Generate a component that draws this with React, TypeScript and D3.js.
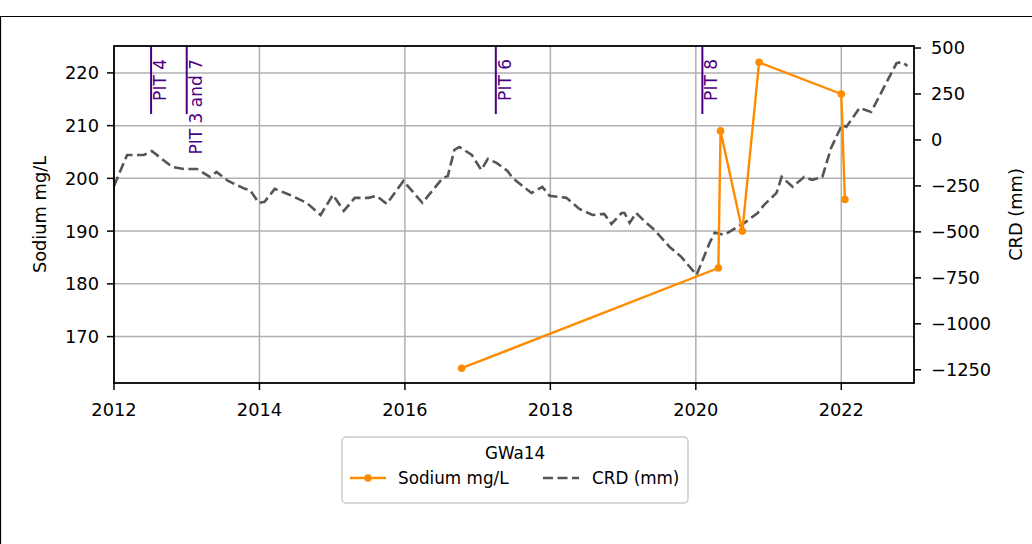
import React from 'react';
import * as d3 from 'd3';

// sodium samples (decimal year, mg/L)
const sodiumDates = [2016.78, 2020.31, 2020.34, 2020.64, 2020.87, 2022.0, 2022.05];
const sodiumValues = [164, 183, 209, 190, 222, 216, 196];

// cumulative rainfall departure (decimal year, mm)
const crdDates = [
    2012.0, 2012.18, 2012.41, 2012.52, 2012.8, 2012.96, 2013.14, 2013.32, 2013.41, 2013.57,
    2013.8, 2013.87, 2013.99, 2014.07, 2014.21, 2014.42, 2014.65, 2014.84, 2015.01, 2015.16,
    2015.31, 2015.5, 2015.61, 2015.75, 2015.98, 2016.24, 2016.52, 2016.59, 2016.68, 2016.75,
    2016.92, 2017.05, 2017.14, 2017.26, 2017.41, 2017.48, 2017.74, 2017.89, 2017.99, 2018.22,
    2018.4, 2018.58, 2018.74, 2018.84, 2018.98, 2019.02, 2019.09, 2019.18, 2019.29, 2019.43,
    2019.64, 2019.8, 2020.01, 2020.19, 2020.26, 2020.39, 2020.67, 2020.85, 2020.94, 2021.11,
    2021.18, 2021.33, 2021.49, 2021.6, 2021.74, 2021.86, 2022.01, 2022.07, 2022.25, 2022.41,
    2022.76, 2022.84, 2022.91
];
const crdValues = [
    -250, -82, -82, -60, -147, -158, -158, -201, -174, -223,
    -266, -272, -342, -337, -266, -299, -342, -408, -299, -386,
    -315, -315, -304, -348, -223, -342, -207, -196, -54, -38,
    -82, -163, -103, -125, -168, -207, -288, -255, -304, -315,
    -375, -408, -402, -457, -397, -397, -451, -397, -440, -489,
    -582, -636, -734, -560, -505, -516, -451, -397, -353, -288,
    -201, -255, -201, -217, -201, -43, 82, 71, 174, 152,
    418, 424, 402
];

const pitDates = [2012.51, 2013.0, 2017.25, 2020.09];
const pitLabels = ['PIT 4', 'PIT 3 and 7', 'PIT 6', 'PIT 8'];

const xTicks = [2012, 2014, 2016, 2018, 2020, 2022];
const leftTicks = [170, 180, 190, 200, 210, 220];
const rightTicks = [-1250, -1000, -750, -500, -250, 0, 250, 500];

const PLOT = { LEFT: 114, RIGHT: 914, TOP: 46, BOTTOM: 383 };
const FONT = 'DejaVu Sans, sans-serif';
const FS = 17.8;
const LEGEND_FS = 16.8;
const ORANGE = '#ff8c00';
const GREY = '#555555';
const PURPLE = '#4b0082';

export default function App() {
    const x = d3.scaleLinear().domain([2012, 2023]).range([PLOT.LEFT, PLOT.RIGHT]);
    const yLeft = d3.scaleLinear().domain([161.2, 225.1]).range([PLOT.BOTTOM, PLOT.TOP]);
    const yRight = d3.scaleLinear().domain([-1322, 511]).range([PLOT.BOTTOM, PLOT.TOP]);
    const fmt = d3.format('d');

    const sodiumLine = d3.line<number>().x((_, i) => x(sodiumDates[i])).y(d => yLeft(d));
    const crdLine = d3.line<number>().x((_, i) => x(crdDates[i])).y(d => yRight(d));

    return (
        <svg width={1032} height={544} style={{ position: 'absolute', left: 0, top: 0, background: '#fff' }}
            fontFamily={FONT} fontSize={FS}>
            {/* figure frame */}
            <path d="M0.5,544V16.5H1032" fill="none" stroke="#000" strokeWidth={1.2} />

            {/* grid */}
            {xTicks.map(t => (
                <line key={`gx-${t}`} x1={x(t)} x2={x(t)} y1={PLOT.TOP} y2={PLOT.BOTTOM} stroke="#b0b0b0" strokeWidth={1.5} />
            ))}
            {leftTicks.map(t => (
                <line key={`gy-${t}`} x1={PLOT.LEFT} x2={PLOT.RIGHT} y1={yLeft(t)} y2={yLeft(t)} stroke="#b0b0b0" strokeWidth={1.5} />
            ))}

            {/* PIT markers */}
            {pitDates.map((d, i) => (
                <g key={`pit-${i}`}>
                    <line x1={x(d)} x2={x(d)} y1={PLOT.TOP} y2={114} stroke={PURPLE} strokeWidth={2} />
                    <text transform={`translate(${x(d) + 15},59) rotate(-90)`} textAnchor="end" fill={PURPLE} fontSize={17}>{pitLabels[i]}</text>
                </g>
            ))}

            {/* CRD */}
            <path d={crdLine(crdValues) || ''} fill="none" stroke={GREY} strokeWidth={2.6} strokeDasharray="10,4.5" />

            {/* sodium */}
            <path d={sodiumLine(sodiumValues) || ''} fill="none" stroke={ORANGE} strokeWidth={2.4} />
            {sodiumValues.map((v, i) => (
                <circle key={`na-${i}`} cx={x(sodiumDates[i])} cy={yLeft(v)} r={3.8} fill={ORANGE} />
            ))}

            {/* spines */}
            <rect x={PLOT.LEFT} y={PLOT.TOP} width={PLOT.RIGHT - PLOT.LEFT} height={PLOT.BOTTOM - PLOT.TOP} fill="none" stroke="#000" strokeWidth={1.8} />

            {/* x axis */}
            {xTicks.map(t => (
                <g key={`xt-${t}`}>
                    <line x1={x(t)} x2={x(t)} y1={PLOT.BOTTOM} y2={PLOT.BOTTOM + 7} stroke="#000" strokeWidth={1.5} />
                    <text x={x(t)} y={416} textAnchor="middle">{fmt(t)}</text>
                </g>
            ))}

            {/* left axis */}
            {leftTicks.map(t => (
                <g key={`lt-${t}`}>
                    <line x1={PLOT.LEFT - 7} x2={PLOT.LEFT} y1={yLeft(t)} y2={yLeft(t)} stroke="#000" strokeWidth={1.5} />
                    <text x={99} y={yLeft(t)} dy="0.36em" textAnchor="end">{fmt(t)}</text>
                </g>
            ))}
            <text transform={`translate(46,${(PLOT.TOP + PLOT.BOTTOM) / 2}) rotate(-90)`} textAnchor="middle">Sodium mg/L</text>

            {/* right axis */}
            {rightTicks.map(t => (
                <g key={`rt-${t}`}>
                    <line x1={PLOT.RIGHT} x2={PLOT.RIGHT + 7} y1={yRight(t)} y2={yRight(t)} stroke="#000" strokeWidth={1.5} />
                    <text x={931} y={yRight(t)} dy="0.36em" textAnchor="start">{fmt(t)}</text>
                </g>
            ))}
            <text transform={`translate(1022,${(PLOT.TOP + PLOT.BOTTOM) / 2}) rotate(-90)`} textAnchor="middle">CRD (mm)</text>

            {/* legend */}
            <g>
                <rect x={342} y={437} width={346} height={66} rx={4} fill="#fff" fillOpacity={0.8} stroke="#cccccc" strokeWidth={1.5} />
                <text x={515} y={459} textAnchor="middle" fontSize={LEGEND_FS}>GWa14</text>
                <line x1={350} x2={386} y1={478} y2={478} stroke={ORANGE} strokeWidth={2.4} />
                <circle cx={368} cy={478} r={3.8} fill={ORANGE} />
                <text x={398} y={484} fontSize={LEGEND_FS}>Sodium mg/L</text>
                <line x1={543} x2={579} y1={478} y2={478} stroke={GREY} strokeWidth={2.6} strokeDasharray="10,4.5" />
                <text x={592} y={484} fontSize={LEGEND_FS}>CRD (mm)</text>
            </g>
        </svg>
    );
}
